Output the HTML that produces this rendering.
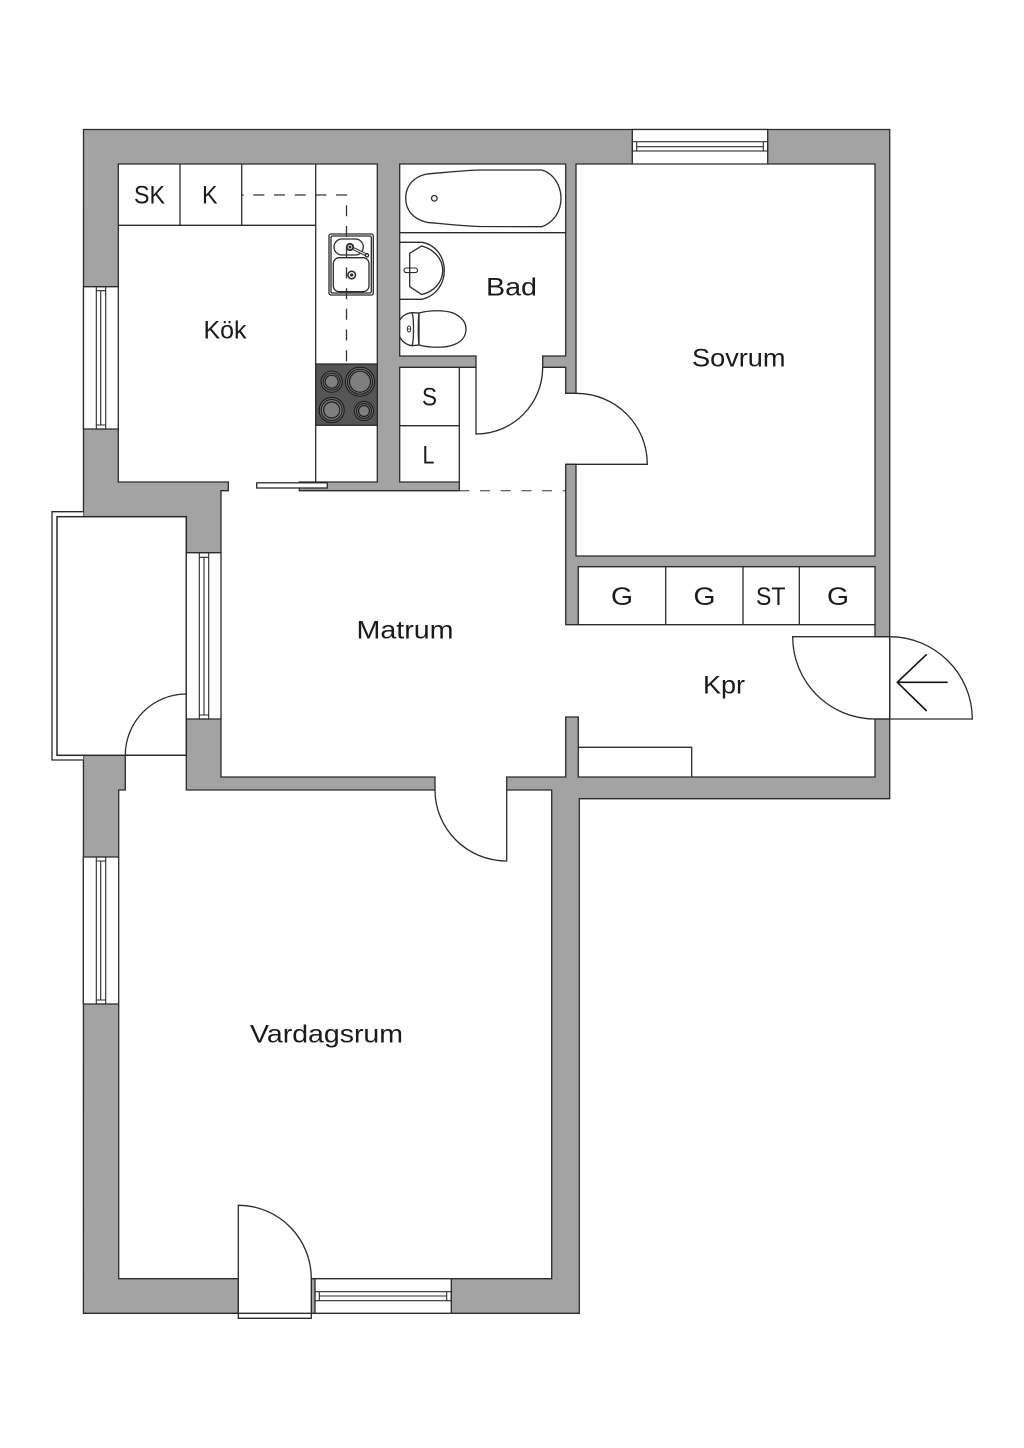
<!DOCTYPE html>
<html><head><meta charset="utf-8">
<style>
html,body{margin:0;padding:0;background:#fff;width:1024px;height:1448px;overflow:hidden}
svg{display:block}
text{font-family:"Liberation Sans",sans-serif;font-size:25px;fill:#1a1a1a}
</style></head>
<body>
<svg width="1024" height="1448" viewBox="0 0 1024 1448" xmlns="http://www.w3.org/2000/svg">
<rect width="1024" height="1448" fill="#fff"/>
<g stroke="#2a2a2a" stroke-width="1.3" fill="none">
<!-- walls -->
<polygon fill="#a3a3a3" points="83.5,129.5 889.7,129.5 889.7,798.7 579.3,798.7 579.3,1313.3 83.4,1313.3"/>
<!-- balcony -->
<polyline fill="#fff" points="83.3,511.7 52,511.7 52,760 83.3,760"/>
<rect x="57" y="516.7" width="129.3" height="238.6" fill="#fff" stroke-width="1.5"/>
<!-- interior -->
<polygon fill="#fff" points="118.3,164 377.3,164 377.3,482 299.3,482 299.3,490.7 459.3,490.7 459.3,482 399.7,482 399.7,367.3 476,367.3 476,356 399.7,356 399.7,164 565.7,164 565.7,356 542.7,356 542.7,367.3 565.7,367.3 565.7,393.3 576,393.3 576,164 632.3,164 632.3,129.5 767.7,129.5 767.7,164 875,164 875,556 576,556 576,464.3 565.7,464.3 565.7,624.7 578.3,624.7 578.3,566.7 875,566.7 875,636.7 889.7,636.7 889.7,719 875,719 875,777 578.3,777 578.3,717 565.7,717 565.7,777 506.7,777 506.7,790 551.7,790 551.7,1278.7 451.3,1278.7 451.3,1313.3 315,1313.3 315,1278.7 311.3,1278.7 311.3,1313.3 238.3,1313.3 238.3,1278.7 118.7,1278.7 118.7,1004 83.3,1004 83.3,857 118.7,857 118.7,790 125.3,790 125.3,755.3 186.3,755.3 186.3,790 435,790 435,777 221,777 221,719 186.3,719 186.3,552.7 221,552.7 221,490.7 228.3,490.7 228.3,482 118.3,482 118.3,429 83.5,429 83.5,286.7 118.3,286.7"/>
<!-- window room-side closing lines -->
<path d="M118.3 286.7V429M118.7 857V1004M221 552.7V719M632.3 164H767.7M315 1278.7H451.3"/>
<!-- windows -->
<g stroke-width="1.1">
<rect x="96.3" y="286.7" width="9.4" height="142.3"/><path d="M100.7 290.7V425M96.3 290.7H105.7M96.3 425H105.7"/>
<rect x="96.3" y="857" width="9.4" height="147"/><path d="M100.7 861V1000M96.3 861H105.7M96.3 1000H105.7"/>
<rect x="199.3" y="552.7" width="9.4" height="166.3"/><path d="M204 557.3V715M199.3 557.3H208.7M199.3 715H208.7"/>
<rect x="632.3" y="141.7" width="135.4" height="9.3"/><path d="M636.7 146.7H763.3M636.7 141.7V151M763.3 141.7V151"/>
<rect x="315" y="1291.7" width="136.3" height="9"/><path d="M319.3 1296H446.7M319.3 1291.7V1300.7M446.7 1291.7V1300.7"/>
</g>
<!-- kitchen lines -->
<path d="M315.7 164V482M118.3 225.3H315.7M180 164V225.3M241.7 164V225.3"/>
<!-- stove -->
<rect x="315.7" y="364" width="61.6" height="61.3" fill="#555"/>
<g fill="#7f7f7f" stroke="#1c1c1c" stroke-width="1.2">
<circle cx="331.7" cy="381.7" r="10.5"/><circle cx="331.7" cy="381.7" r="8.5"/><circle cx="331.7" cy="381.7" r="6.5"/>
<circle cx="360" cy="381.7" r="14.5"/><circle cx="360" cy="381.7" r="12.5"/><circle cx="360" cy="381.7" r="10.5"/>
<circle cx="331.7" cy="410" r="12.5"/><circle cx="331.7" cy="410" r="10.5"/><circle cx="331.7" cy="410" r="8"/>
<circle cx="364" cy="411" r="9.5"/><circle cx="364" cy="411" r="7.5"/><circle cx="364" cy="411" r="5.5"/>
</g>
<!-- sink -->
<rect x="329" y="234" width="44.3" height="61" rx="2"/>
<rect x="331" y="236" width="40.3" height="57" rx="1.5"/>
<rect x="334" y="239" width="29.3" height="16" rx="8"/>
<rect x="333.3" y="257.7" width="35.7" height="34" rx="6"/>
<circle cx="351.7" cy="275" r="3.8" stroke-width="1.5"/><circle cx="351.7" cy="275" r="1" fill="#222"/>
<path d="M350 247L366.5 255" stroke-width="3"/><path d="M350 247L366.5 255" stroke="#fff" stroke-width="1"/>
<circle cx="350" cy="247" r="3.2" fill="#fff" stroke-width="1.8"/><circle cx="350" cy="247" r=".8" fill="#222"/>
<circle cx="367" cy="255.3" r="1.6" fill="#fff"/>
<!-- dashed -->
<path d="M241.7 195H346.5V364" stroke="#333" stroke-dasharray="11 9.7" stroke-dashoffset="9.1"/>
<path d="M459.3 490.7H565.7" stroke="#333" stroke-width="1" stroke-dasharray="10 10.7"/>
<!-- bath -->
<path d="M426.7 174C445 172.5 462 170.5 480 170L541.7 170C553 173 561 185 561 198.3C561 212 553 223 541.7 226.7L480 226.5C462 226 445 224 426.7 222.3C413 219 405.7 210 405.7 198.3C405.7 186 413 177 426.7 174Z"/>
<circle cx="434.3" cy="198.3" r="2.8"/>
<path d="M399.7 232.7H565.7"/>
<!-- basin -->
<path d="M399.7 242.3H422.3C436 245 444.3 257 444.3 270.5C444.3 285 435 296 422.3 299.3H399.7"/>
<path d="M409.7 253.3L421.7 246C433 249 442.7 258 442.7 270.5C442.7 283 433 292 421.7 294.5L409.7 286.7Z"/>
<rect x="404" y="268" width="13.5" height="4.6" rx="2.3" stroke-width="1.1"/>
<!-- toilet -->
<path d="M419 313C430 310 445 310 453 313C462 317 466 322 466 329C466 336 462 342 453 345C445 348 430 348 419 345Z"/>
<path d="M400 320C402 316 407 313 412 312.7C414 318 414 340 412 345.7C407 345 402 342 400 337"/>
<path d="M412 312.7L419 313M412 345.7L419 345M419 313C418 320 418 338 419 345"/>
<ellipse cx="409" cy="329" rx="1.7" ry="3" stroke-width="1"/><path d="M407.3 329H410.7" stroke-width=".8"/>
<!-- closet S/L -->
<path d="M459.3 367.3V482M399.7 425.7H459.3"/>
<!-- doors -->
<path d="M476 367.3V434C513 434 542.7 404 542.7 367.3"/>
<path d="M565.7 393.3H576C616 393.3 647.3 425 647.3 464.3H565.7"/>
<path d="M186.3 694C152.6 694 125.3 721.5 125.3 755.3"/>
<path d="M435 790C435 829 467 861 506.7 861V790"/>
<path d="M238.3 1318.3V1205.3C278.6 1205.3 311.3 1238 311.3 1278.7V1318.3ZM238.3 1313.3H311.3" fill="#fff"/>
<!-- Kpr door -->
<path d="M875 636.7H792.7C792.7 682 829 719 875 719"/>
<path d="M889.7 636.7C935 636.7 972.3 673.7 972.3 719H875"/>
<path d="M875 636.7H889.7V719"/>
<path d="M947.7 682.3H897.3M926.7 654.3L897.3 682.3L926.7 711" stroke="#111" stroke-width="1.6"/>
<!-- hall closets -->
<path d="M578.3 624.7H875M665.7 566.7V624.7M743 566.7V624.7M799.3 566.7V624.7"/>
<path d="M578.3 747.3H691.7V777"/>
<!-- sliding door -->
<rect x="256.7" y="482.8" width="70.6" height="5.2" fill="#fff"/>
</g>
<text x="134" y="203.7" textLength="31" lengthAdjust="spacingAndGlyphs">SK</text>
<text x="202" y="203.7" textLength="15.5" lengthAdjust="spacingAndGlyphs">K</text>
<text x="203.5" y="338.3" textLength="43" lengthAdjust="spacingAndGlyphs">Kök</text>
<text x="486" y="295.3" textLength="51" lengthAdjust="spacingAndGlyphs">Bad</text>
<text x="692" y="366.7" textLength="93.5" lengthAdjust="spacingAndGlyphs">Sovrum</text>
<text x="422" y="405.7" textLength="15" lengthAdjust="spacingAndGlyphs">S</text>
<text x="422.5" y="463.7" textLength="12" lengthAdjust="spacingAndGlyphs">L</text>
<text x="611" y="605" textLength="22" lengthAdjust="spacingAndGlyphs">G</text>
<text x="693.5" y="605" textLength="22" lengthAdjust="spacingAndGlyphs">G</text>
<text x="756" y="605" textLength="29.5" lengthAdjust="spacingAndGlyphs">ST</text>
<text x="827" y="605" textLength="22" lengthAdjust="spacingAndGlyphs">G</text>
<text x="703" y="693.3" textLength="42" lengthAdjust="spacingAndGlyphs">Kpr</text>
<text x="356.5" y="638.3" textLength="97" lengthAdjust="spacingAndGlyphs">Matrum</text>
<text x="250" y="1042.7" textLength="153" lengthAdjust="spacingAndGlyphs">Vardagsrum</text>
</svg>
</body></html>
